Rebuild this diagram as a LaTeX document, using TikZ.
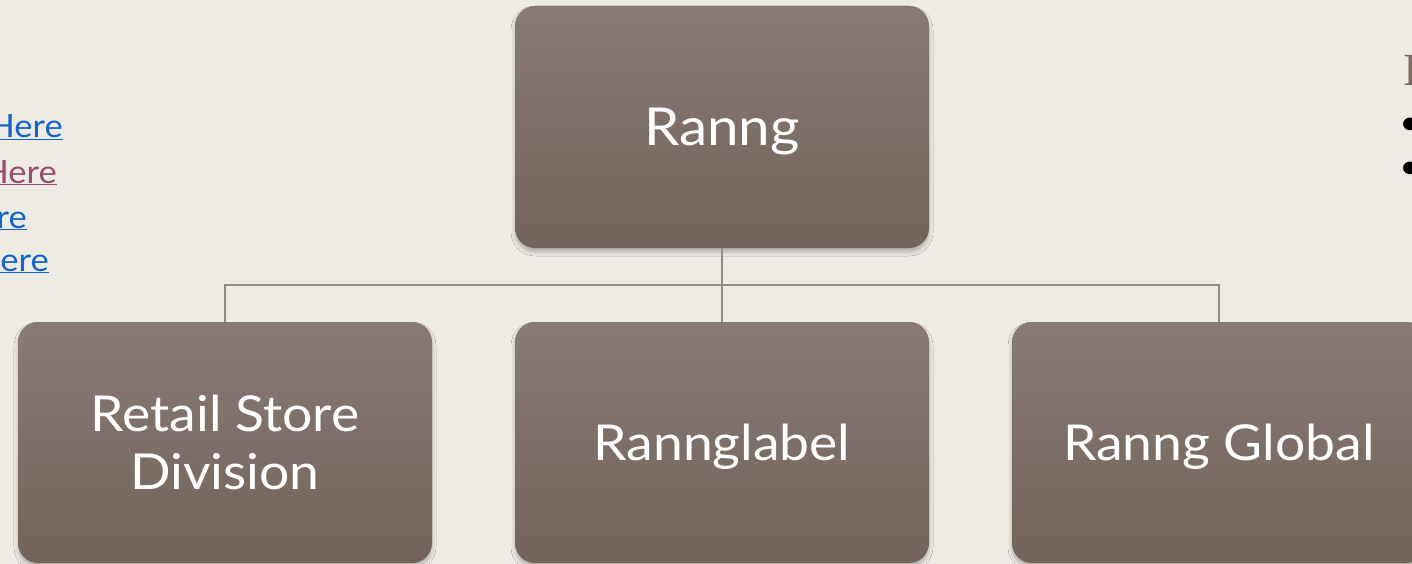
\documentclass[tikz,border=0pt]{standalone}
\usepackage{fontspec}
\setmainfont{Lato}[FakeStretch=1.08]
\newfontfamily\serifI{Liberation Serif}
\usetikzlibrary{shadows.blur}
\definecolor{bg}{HTML}{EEEAE4}
\definecolor{boxtop}{HTML}{887B74}
\definecolor{boxbot}{HTML}{73645B}
\definecolor{conn}{HTML}{978A85}
\definecolor{linkblue}{HTML}{1565C8}
\definecolor{linkpurple}{HTML}{954F72}
\definecolor{headbrown}{HTML}{7A6A62}
\begin{document}
\begin{tikzpicture}[x=1pt,y=-1pt,
  orgbox/.style={rounded corners=20pt, top color=boxtop, bottom color=boxbot, draw=none,
    minimum width=414pt, minimum height=242pt, text=white, align=center, inner sep=0pt,
    blur shadow={shadow xshift=0pt, shadow yshift=-4pt, shadow blur radius=4pt, shadow opacity=25}},
  bigtext/.style={font=\fontsize{52.3}{60}\selectfont, text height=37pt, text depth=0pt},
  midtext/.style={font=\fontsize{49.5}{58}\selectfont, text height=35pt, text depth=0pt},
  twoline/.style={font=\fontsize{49.5}{58}\selectfont},
  conline/.style={draw=conn, line width=2pt},
  linktext/.style={anchor=base east, font=\fontsize{32}{38}\selectfont, inner sep=0pt},
  bullet/.style={anchor=center, font=\fontsize{34}{34}\selectfont, inner sep=0pt}]
\useasboundingbox (0,0) rectangle (1412,564);
\fill[bg] (0,0) rectangle (1412,564);
\clip (0,0) rectangle (1412,564);
% boxes
\node[orgbox, bigtext] (top) at (722,127) {Ranng};
\node[orgbox, minimum height=241pt, twoline] (l) at (225,442.5) {Retail Store\\Division};
\node[orgbox, minimum height=241pt, midtext] (m) at (722,442.5) {Rannglabel};
\node[orgbox, minimum height=241pt, midtext] (r) at (1219,442.5) {Ranng Global};
% connectors
\coordinate (bus) at (722,285);
\draw[conline] (top.south) -- (bus);
\draw[conline] (l.north) |- (bus -| r.north) -- (r.north);
\draw[conline] (bus) -- (m.north);
% left clipped link texts
\node[linktext, text=linkblue] (t1) at (63,138) {\underline{Here}};
\node[linktext, text=linkpurple] (t2) at (57,183) {\underline{Here}};
\node[linktext, text=linkblue] (t3) at (27,228) {\underline{re}};
\node[linktext, text=linkblue] (t4) at (49,271) {\underline{ere}};
% right clipped heading and bullets
\node[anchor=base west, text=headbrown, font=\serifI\fontsize{46}{50}\selectfont, inner sep=0pt] (h) at (1403,86) {I};
\node[bullet] (b1) at (1410,126) {•};
\node[bullet] (b2) at (1410,170) {•};
\end{tikzpicture}
\end{document}
